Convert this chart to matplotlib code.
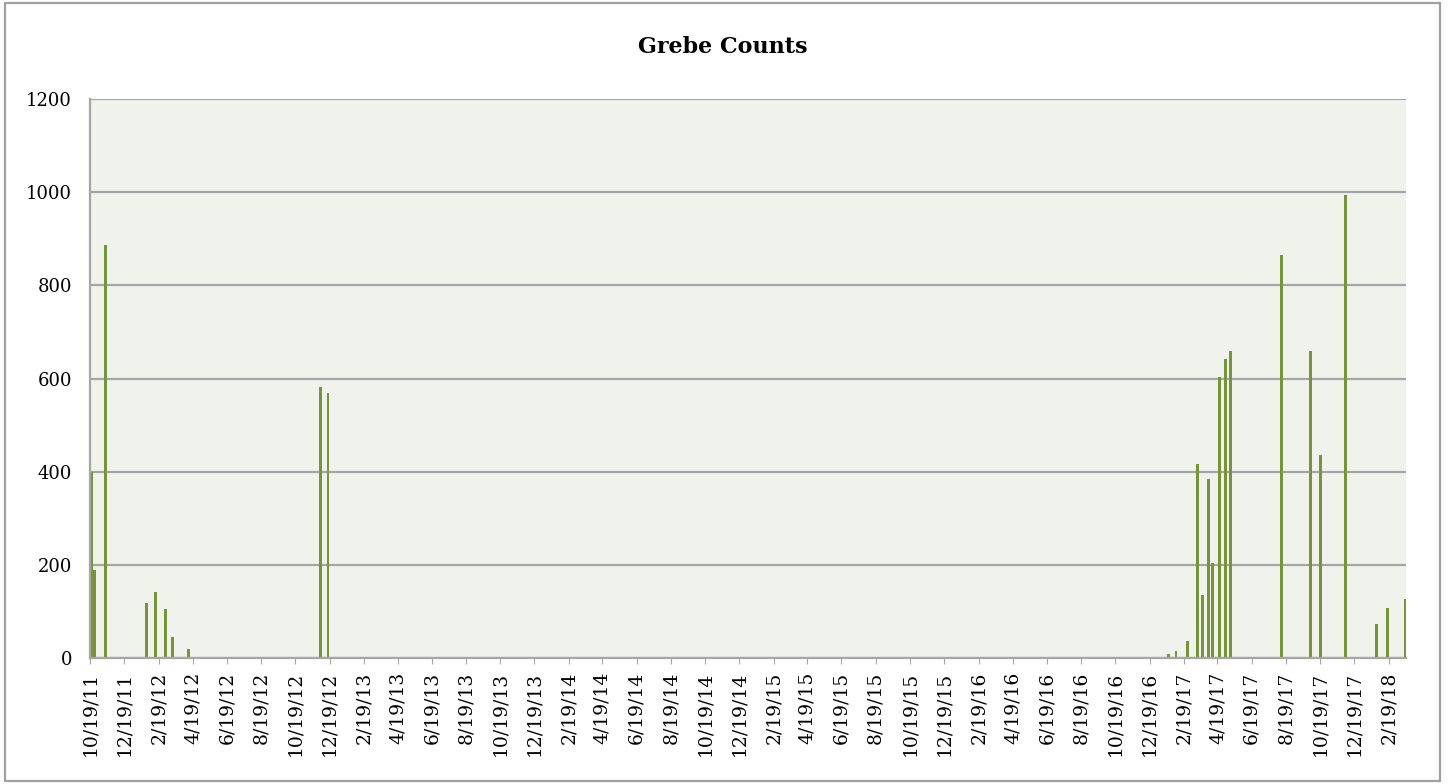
import pandas as pd
import matplotlib.pyplot as plt
from matplotlib.patches import Rectangle

plt.rcParams['font.family'] = ['DejaVu Serif']

# survey dates and grebe counts
survey_dates = ["2011-10-21", "2011-10-27", "2011-11-16", "2012-01-27", "2012-02-12",
                "2012-03-01", "2012-03-14", "2012-04-11", "2012-12-03", "2012-12-16",
                "2017-01-22", "2017-02-04", "2017-02-24", "2017-03-15", "2017-03-24",
                "2017-04-03", "2017-04-10", "2017-04-22", "2017-05-04", "2017-05-12",
                "2017-08-11", "2017-10-02", "2017-10-20", "2017-12-03", "2018-01-28",
                "2018-02-16", "2018-03-20"]
counts = [400, 189, 887, 119, 142, 105, 45, 19, 581, 568,
          8, 15, 37, 417, 135, 384, 205, 604, 642, 659,
          865, 660, 435, 994, 72, 107, 126]

tick_labels = ["10/19/11", "12/19/11", "2/19/12", "4/19/12", "6/19/12", "8/19/12",
               "10/19/12", "12/19/12", "2/19/13", "4/19/13", "6/19/13", "8/19/13",
               "10/19/13", "12/19/13", "2/19/14", "4/19/14", "6/19/14", "8/19/14",
               "10/19/14", "12/19/14", "2/19/15", "4/19/15", "6/19/15", "8/19/15",
               "10/19/15", "12/19/15", "2/19/16", "4/19/16", "6/19/16", "8/19/16",
               "10/19/16", "12/19/16", "2/19/17", "4/19/17", "6/19/17", "8/19/17",
               "10/19/17", "12/19/17", "2/19/18"]

dates = pd.to_datetime(survey_dates)
tick_dates = pd.to_datetime(tick_labels, format="%m/%d/%y")

fig = plt.figure(figsize=(14.48, 7.84), dpi=100)
ax = fig.add_axes([90 / 1448, 126 / 784, 1316 / 1448, 559 / 784])
ax.set_facecolor("#F0F3EC")

ax.bar(dates, counts, width=5, color="#77933C", zorder=3)

ax.set_ylim(0, 1200)
ax.set_yticks([0, 200, 400, 600, 800, 1000, 1200])
ax.yaxis.grid(True, color="#A6A6A6", linewidth=1.6, zorder=1)
ax.set_xlim(pd.Timestamp("2011-10-19"), pd.Timestamp("2018-03-21"))
ax.set_xticks(tick_dates)
ax.set_xticklabels(tick_labels, rotation=90, fontsize=13.5)

ax.tick_params(axis="y", length=0, pad=13, labelsize=13)
ax.tick_params(axis="x", length=4, color="#A6A6A6", pad=6)

for side in ["top", "right"]:
    ax.spines[side].set_visible(False)
for side in ["left", "bottom"]:
    ax.spines[side].set_color("#A6A6A6")
    ax.spines[side].set_linewidth(1.6)
    ax.spines[side].set_zorder(4)

fig.text(0.499, 0.940, "Grebe Counts", ha="center", va="center",
         fontsize=16, fontweight="bold")

# outer chart border
fig.patches.append(Rectangle((5 / 1448, 3 / 784), 1435 / 1448, 778 / 784,
                             transform=fig.transFigure, fill=False,
                             edgecolor="#A0A0A0", linewidth=1.6))

fig.savefig("out.png", dpi=100)
